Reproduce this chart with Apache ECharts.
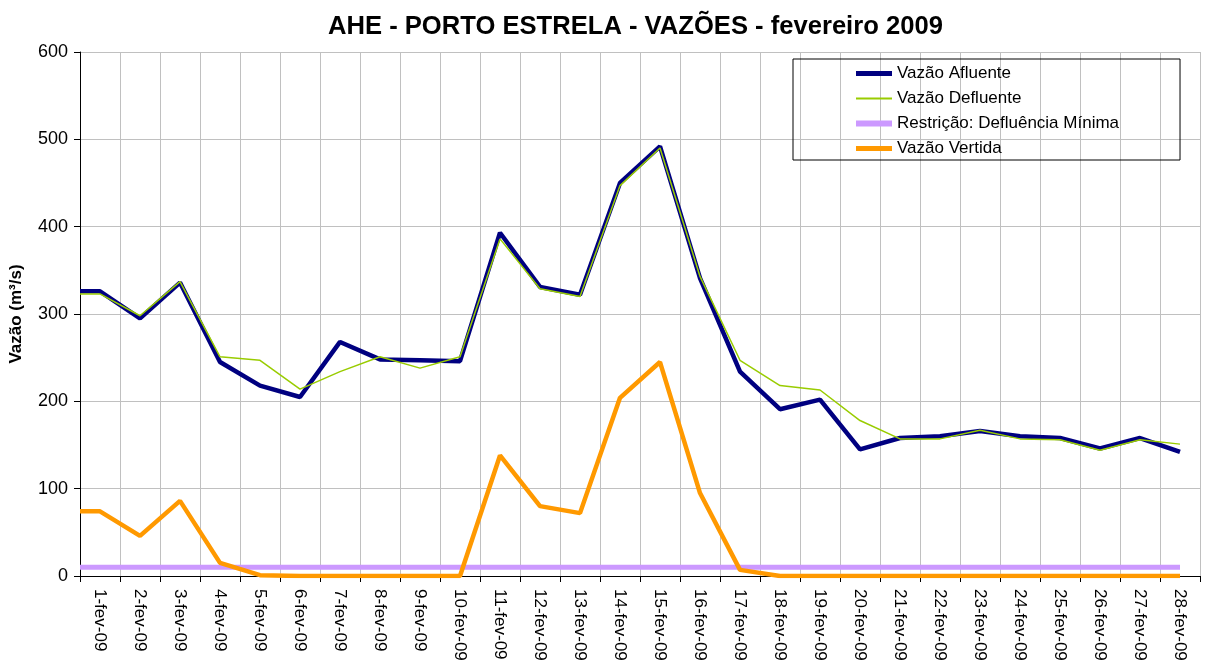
<!DOCTYPE html>
<html>
<head>
<meta charset="utf-8">
<script src="https://cdn.jsdelivr.net/npm/echarts@6/dist/echarts.min.js"></script>
<style>
  html, body { margin: 0; padding: 0; background: #fff; }
  #chart { width: 1212px; height: 660px; }
</style>
</head>
<body>
<div id="chart"></div>
<script>
// rótulos dos dias
var dias = ['1-fev-09', '2-fev-09', '3-fev-09', '4-fev-09', '5-fev-09', '6-fev-09', '7-fev-09',
  '8-fev-09', '9-fev-09', '10-fev-09', '11-fev-09', '12-fev-09', '13-fev-09', '14-fev-09',
  '15-fev-09', '16-fev-09', '17-fev-09', '18-fev-09', '19-fev-09', '20-fev-09', '21-fev-09',
  '22-fev-09', '23-fev-09', '24-fev-09', '25-fev-09', '26-fev-09', '27-fev-09', '28-fev-09'];

// vazões (m³/s)
var afluente = [326, 295, 336, 245, 218, 205, 268, 248, 247, 246, 393, 331, 322, 450, 492, 341, 234,
  191, 202, 145, 158, 160, 166, 160, 158, 146, 158, 142];
var defluente = [323, 298, 337, 251, 247, 214, 234, 251, 238, 251, 386, 329, 320, 447, 490, 343, 247,
  218, 213, 178, 157, 157, 167, 157, 156, 144, 156, 151];
var restricao = [10, 10, 10, 10, 10, 10, 10, 10, 10, 10, 10, 10, 10, 10, 10, 10, 10, 10, 10, 10, 10,
  10, 10, 10, 10, 10, 10, 10];
var vertida = [74, 46, 86, 15, 1, 0, 0, 0, 0, 0, 138, 80, 72, 204, 245, 95, 7, 0, 0, 0, 0, 0, 0, 0,
  0, 0, 0, 0];

var yTicks = [0, 100, 200, 300, 400, 500, 600];

// cada ponto fica no centro da categoria; o primeiro valor repete-se na borda esquerda
function pontos(valores) {
  var out = [[0, valores[0]]];
  for (var i = 0; i < valores.length; i++) {
    out.push([i + 0.5, valores[i]]);
  }
  return out;
}

var myChart = echarts.init(document.getElementById('chart'));
var fonte = 'Liberation Sans, Arial, sans-serif';

var option = {
  backgroundColor: '#fff',
  animation: false,
  title: {
    text: 'AHE - PORTO ESTRELA - VAZÕES - fevereiro 2009',
    left: 323,
    top: 9,
    textStyle: { fontFamily: fonte, fontSize: 25.6, fontWeight: 'bold', color: '#000' }
  },
  legend: {
    orient: 'vertical',
    left: 793,
    top: 59,
    padding: [6, 61, 3, 60],
    itemGap: 8,
    itemWidth: 36,
    itemHeight: 18,
    borderColor: '#000',
    borderWidth: 1,
    itemStyle: { opacity: 0 },
    textStyle: { fontFamily: fonte, fontSize: 17, color: '#000' },
    data: [
      { name: 'Vazão Afluente', lineStyle: { width: 5 } },
      { name: 'Vazão Defluente', lineStyle: { width: 2 } },
      { name: 'Restrição: Defluência Mínima', lineStyle: { width: 6 } },
      { name: 'Vazão Vertida', lineStyle: { width: 5 } }
    ]
  },
  grid: { left: 80, right: 12, top: 52, bottom: 84, outerBoundsMode: 'none' },
  xAxis: [{
    type: 'category',
    data: dias,
    boundaryGap: true,
    axisLine: { lineStyle: { color: '#000', width: 1 } },
    axisTick: { show: true, interval: 0, length: 6, lineStyle: { color: '#000' } },
    axisLabel: {
      interval: 0, rotate: -90, margin: 13,
      fontFamily: fonte, fontSize: 17, color: '#000'
    },
    splitLine: { show: true, interval: 0, lineStyle: { color: '#c0c0c0', width: 1 } }
  }, {
    type: 'value',
    min: 0,
    max: dias.length,
    show: false
  }],
  yAxis: {
    type: 'value',
    min: yTicks[0],
    max: yTicks[yTicks.length - 1],
    interval: 100,
    name: 'Vazão (m³/s)',
    nameLocation: 'middle',
    nameGap: 55,
    nameTextStyle: { fontFamily: fonte, fontSize: 17, fontWeight: 'bold', color: '#000' },
    axisLine: { show: true, lineStyle: { color: '#000', width: 1 } },
    axisTick: { show: true, length: 6, lineStyle: { color: '#000' } },
    axisLabel: { fontFamily: fonte, fontSize: 18, color: '#000', margin: 12 },
    splitLine: { show: true, lineStyle: { color: '#c0c0c0', width: 1 } }
  },
  series: [{
    name: 'Vazão Afluente',
    type: 'line',
    xAxisIndex: 1,
    symbol: 'none',
    color: '#000080',
    lineStyle: { color: '#000080', width: 4.5 },
    data: pontos(afluente)
  }, {
    name: 'Vazão Defluente',
    type: 'line',
    xAxisIndex: 1,
    symbol: 'none',
    color: '#99cc00',
    lineStyle: { color: '#99cc00', width: 1.5 },
    data: pontos(defluente)
  }, {
    name: 'Restrição: Defluência Mínima',
    type: 'line',
    xAxisIndex: 1,
    symbol: 'none',
    color: '#cc99ff',
    lineStyle: { color: '#cc99ff', width: 5 },
    data: pontos(restricao)
  }, {
    name: 'Vazão Vertida',
    type: 'line',
    xAxisIndex: 1,
    symbol: 'none',
    color: '#ff9900',
    lineStyle: { color: '#ff9900', width: 4.5 },
    data: pontos(vertida)
  }]
};

myChart.setOption(option);
</script>
</body>
</html>
